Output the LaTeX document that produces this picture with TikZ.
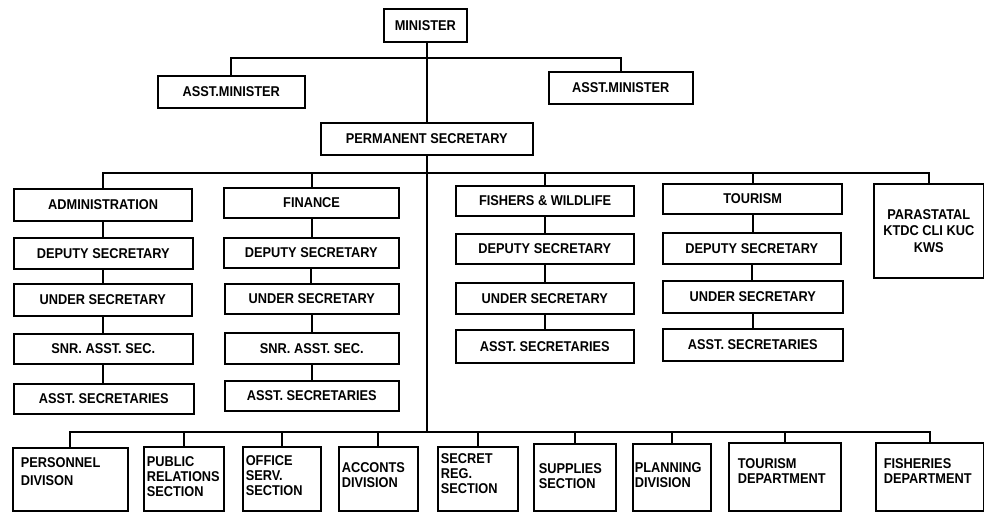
\documentclass[tikz,border=0pt]{standalone}
\usepackage{fontspec}
\setmainfont[FakeStretch=0.9]{Liberation Sans}
\tikzset{
  box/.style={draw, line width=1.6pt, inner sep=0pt, align=center,
    font=\bfseries\fontsize{14.2}{16}\selectfont},
  headbox/.style={box, line width=2.2pt},
  link/.style={line width=2pt, line cap=rect},
}
% \orgbox[options]{name}{x1}{y1}{x2}{y2}{text}: box from top-left to bottom-right
\newcommand\orgbox[7][]{%
  \pgfmathsetmacro\bw{#5-#3}\pgfmathsetmacro\bh{#6-#4}%
  \node[box, anchor=north west, minimum width=\bw pt, minimum height=\bh pt, #1]
    (#2) at (#3,#4) {#7};}
% \leftbox[top gap]{name}{x1}{y1}{x2}{y2}{inset}{text}:
% box with left-aligned text starting a fixed gap below its top edge
\newcommand\leftbox[8][10pt]{%
  \pgfmathsetmacro\bw{#5-#3}\pgfmathsetmacro\bh{#6-#4}\pgfmathsetmacro\tw{#5-#3-2*#7}%
  \node[box, anchor=north west, inner xsep=#7pt, inner ysep=0pt,
    minimum width=\bw pt, minimum height=\bh pt,
    font=\bfseries\fontsize{14.2}{15}\selectfont]
    (#2) at (#3,#4)
    {\parbox[c][\bh pt][t]{\tw pt}{\raggedright\vspace*{#1}#8}};}
\begin{document}
\begin{tikzpicture}[x=1pt, y=-1pt]
\useasboundingbox (0,0) rectangle (984,511);

% top of the ministry
\orgbox{min}{383}{8}{466}{41}{MINISTER}
\orgbox{am1}{157}{75}{304}{107}{ASST.MINISTER}
\orgbox{am2}{548}{71}{692}{103}{ASST.MINISTER}
\orgbox{ps}{320}{122}{532}{154}{PERMANENT SECRETARY}

% administration column
\orgbox[headbox]{adm}{13}{188}{191}{220}{ADMINISTRATION}
\orgbox{adm2}{13}{237}{192}{268}{DEPUTY SECRETARY}
\orgbox{adm3}{13}{283}{191}{315}{UNDER SECRETARY}
\orgbox{adm4}{13}{333}{192}{363}{SNR. ASST. SEC.}
\orgbox{adm5}{13}{383}{193}{413}{ASST. SECRETARIES}

% finance column
\orgbox[headbox]{fin}{223}{187}{398}{217}{FINANCE}
\orgbox{fin2}{223}{237}{398}{267}{DEPUTY SECRETARY}
\orgbox{fin3}{224}{283}{398}{313}{UNDER SECRETARY}
\orgbox{fin4}{224}{332}{398}{363}{SNR. ASST. SEC.}
\orgbox{fin5}{224}{380}{398}{410}{ASST. SECRETARIES}

% fisheries and wildlife column
\orgbox[headbox]{fis}{455}{185}{633}{215}{FISHERS \& WILDLIFE}
\orgbox{fis2}{455}{233}{633}{263}{DEPUTY SECRETARY}
\orgbox{fis3}{455}{282}{633}{313}{UNDER SECRETARY}
\orgbox{fis4}{455}{329}{633}{362}{ASST. SECRETARIES}

% tourism column
\orgbox[headbox]{tou}{662}{183}{841}{213}{TOURISM}
\orgbox{tou2}{662}{232}{840}{263}{DEPUTY SECRETARY}
\orgbox{tou3}{662}{280}{842}{312}{UNDER SECRETARY}
\orgbox{tou4}{662}{328}{842}{360}{ASST. SECRETARIES}

% parastatals
\orgbox[font=\bfseries\fontsize{14.2}{16.5}\selectfont]{par}{873}{183}{983}{277}{PARASTATAL\\KTDC CLI KUC\\KWS}

% divisions and sections
\leftbox[10pt]{per}{12}{447}{127}{510}{8}{PERSONNEL\\[3pt]DIVISON}
\leftbox[10pt]{pub}{143}{446}{223}{510}{3}{PUBLIC\\RELATIONS\\SECTION}
\leftbox[9pt]{off}{242}{446}{320}{510}{3}{OFFICE\\SERV.\\SECTION}
\leftbox[16pt]{acc}{338}{446}{417}{510}{3}{ACCONTS\\DIVISION}
\leftbox[7pt]{sec}{437}{446}{517}{510}{3}{SECRET\\REG.\\SECTION}
\leftbox[20pt]{sup}{533}{443}{615}{510}{5}{SUPPLIES\\SECTION}
\leftbox[19pt]{pla}{632}{443}{710}{510}{2}{PLANNING\\DIVISION}
\leftbox[16pt]{tod}{728}{442}{840}{510}{9}{TOURISM\\DEPARTMENT}
\leftbox[16pt]{fid}{875}{442}{983}{510}{8}{FISHERIES\\DEPARTMENT}

% bus levels
\coordinate (mbus) at (ps.north |- 0,58);
\coordinate (dbus) at (ps.south |- 0,173);
\coordinate (bbus) at (ps.south |- 0,432);

% connectors
\draw[link] (ps.north |- min.south) -- (ps.north);
\draw[link] (am1.north) |- (mbus) -| (am2.north);
\draw[link] (ps.south) -- (bbus);
\draw[link] (adm.north) |- (dbus) -| (par.north);
\foreach \n in {fin,fis,tou} \draw[link] (\n.north) -- (\n.north |- dbus);
\foreach \a/\b in {adm/adm2,adm2/adm3,adm3/adm4,adm4/adm5,
                   fin/fin2,fin2/fin3,fin3/fin4,fin4/fin5,
                   fis/fis2,fis2/fis3,fis3/fis4,
                   tou/tou2,tou2/tou3,tou3/tou4}
  \draw[link] (\a.south) -- (\a.south |- \b.north);
\draw[link] (per.north) |- (bbus) -| (fid.north);
\foreach \n in {pub,off,acc,sec,sup,pla,tod} \draw[link] (\n.north) -- (\n.north |- bbus);
\end{tikzpicture}
\end{document}
